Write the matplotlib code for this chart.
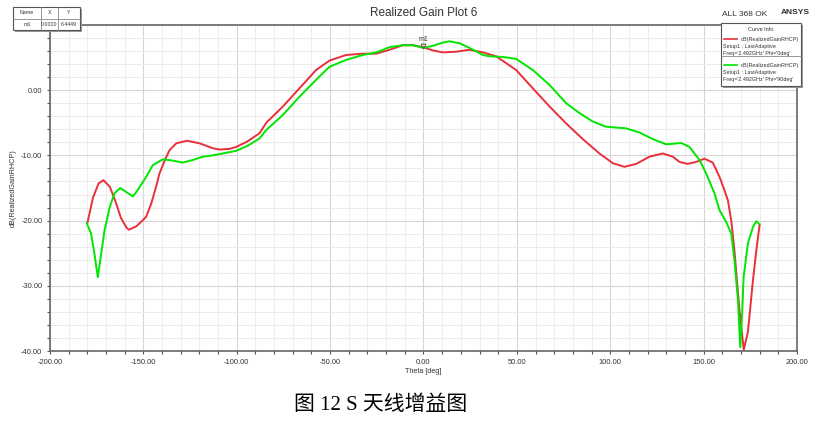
import numpy as np
import matplotlib.pyplot as plt
from matplotlib.patches import Rectangle
from matplotlib.ticker import MultipleLocator

# data
theta_red = [-180, -177, -174, -171.4, -168, -165, -162, -159, -157.8, -153.9, -150.3, -148.5,
             -145.8, -143.2, -141.4, -138.5, -136, -132.4, -126.7, -119.9, -112.8, -109.2,
             -103.9, -100.3, -94.5, -87.8, -84.2, -75.3, -66.4, -57.5, -50.3, -41.4, -32.5,
             -25.3, -18.2, -11.1, -5.7, -0.4, 5.0, 10.3, 17.5, 24.6, 31.8, 38.9, 49.6, 58.5,
             67.5, 76.4, 85.3, 94.2, 101.4, 107.6, 113.9, 121.0, 128.1, 133.5, 137.1, 141.5,
             146, 150.4, 154.9, 158.5, 161.1, 163, 164.8, 166.5, 169.2, 171.5, 173.7, 175.0,
             176.4, 178.2, 180]
gain_red = [-20.4, -16.5, -14.3, -13.8, -14.8, -17.0, -19.6, -21.1, -21.4, -20.9, -19.95, -19.4,
            -17.4, -14.8, -12.8, -10.7, -9.2, -8.15, -7.75, -8.15, -8.9, -9.1,
            -9.0, -8.7, -7.9, -6.6, -5.0, -2.5, 0.3, 3.1, 4.55, 5.4, 5.6,
            5.6, 6.2, 6.9, 6.9, 6.6, 6.1, 5.8, 5.9, 6.2, 5.8, 5.2, 3.1, 0.3,
            -2.5, -5.1, -7.5, -9.7, -11.2, -11.75, -11.3, -10.2, -9.7, -10.2, -11.0, -11.3,
            -11.0, -10.5, -11.1, -13.3, -15.3, -16.9, -20.0, -24.6, -33.8, -39.8, -37.1, -33.3,
            -29.2, -24.6, -20.6]

theta_green = [-180.3, -178, -176.2, -174.4, -172.6, -170.8, -168, -165.4, -162.4, -159.2,
               -155.6, -153, -148.5, -145, -139.6, -134.2, -128.9, -123.5, -118.2, -112.8,
               -105.7, -100.3, -94, -87.8, -84.2, -75.3, -66.4, -57.5, -50.3, -41.4, -32.5,
               -25.3, -18.2, -11.1, -5.7, -0.4, 5.0, 10.3, 13.9, 19.3, 24.6, 31.8, 35.3, 42.5,
               49.6, 58.5, 67.5, 76.4, 83.5, 90.6, 97.7, 108.5, 115.7, 122.8, 129.9, 138,
               142.4, 147.8, 151.4, 155.8, 158.5, 162.1, 164.8, 166.5, 168.4, 169.6, 170.7,
               171.4, 173.7, 176.4, 178.2, 179.6]
gain_green = [-20.4, -22.0, -25.1, -28.7, -25.1, -21.5, -17.9, -15.8, -15.0, -15.6,
              -16.3, -15.3, -13.3, -11.5, -10.6, -10.8, -11.1, -10.7, -10.2, -10.0,
              -9.6, -9.3, -8.5, -7.4, -6.1, -3.8, -1.0, 1.6, 3.6, 4.65, 5.4,
              5.8, 6.6, 6.9, 6.9, 6.5, 6.8, 7.3, 7.5, 7.2, 6.5, 5.4, 5.2, 5.1,
              4.8, 3.1, 0.8, -2.0, -3.5, -4.8, -5.6, -5.85, -6.5, -7.5, -8.3, -8.1,
              -8.7, -10.7, -12.8, -15.8, -18.4, -20.2, -22.0, -26.1, -32.3, -39.4, -33.8,
              -28.7, -23.5, -21.0, -20.1, -20.5]

marker_x = 0.0
marker_y = 6.4449

red = '#e8303a'
green = '#00e600'
txt = '#333333'

plt.rcParams['font.family'] = ['Liberation Sans', 'DejaVu Sans']

fig = plt.figure(figsize=(8.2, 4.22), dpi=100)
ax = fig.add_axes([50 / 820, 1 - 351 / 422, 747 / 820, 326 / 422])

ax.plot(theta_red, gain_red, color=red, lw=1.4, zorder=3)
ax.plot(theta_green, gain_green, color=green, lw=1.4, zorder=3)

ax.plot([marker_x], [marker_y + 0.4], marker='v', ms=3.5, mfc='none', mec='#555555', mew=0.7, zorder=4)
ax.text(marker_x, marker_y + 0.8, 'm1', fontsize=5, color=txt, ha='center', va='bottom', zorder=4)

ax.set_xlim(-200, 200)
ax.set_ylim(-40, 10)
ax.xaxis.set_minor_locator(MultipleLocator(10))
ax.yaxis.set_minor_locator(MultipleLocator(2))
ax.set_xticks([-200, -150, -100, -50, 0, 50, 100, 150, 200])
ax.set_xticklabels(['%.2f' % v for v in ax.get_xticks()])
ax.set_yticks([-40, -30, -20, -10, 0])
ax.set_yticklabels(['%.2f' % v for v in ax.get_yticks()])
ax.grid(which='major', color='#d6d6d6', lw=0.8)
ax.grid(which='minor', color='#ececec', lw=0.7)
ax.set_axisbelow(True)
ax.tick_params(which='both', direction='out', length=2.5, width=0.8, color='#555555',
               labelsize=5.4, labelcolor=txt, pad=3)
for s in ax.spines.values():
    s.set_color('#666666')
    s.set_linewidth(1.2)

ax.set_xlabel('Theta [deg]', fontsize=5.2, color=txt, labelpad=2)
ax.set_ylabel('dB(RealizedGainRHCP)', fontsize=5.2, color=txt, labelpad=3)
fig.text(424 / 820, 1 - 13 / 422, 'Realized Gain Plot 6', fontsize=8.5, color=txt, ha='center', va='center')
fig.text(745 / 820, 1 - 14 / 422, 'ALL 368 OK', fontsize=6, color=txt, ha='center', va='center')
fig.text(795 / 820, 1 - 13 / 422, 'ANSYS', fontsize=6, color=txt, ha='center', va='center', fontweight='bold')


def fx(px):
    return px / 820


def fy(py):
    return 1 - py / 422


# marker table
fig.patches.append(Rectangle((fx(15), fy(32)), fx(67), 23 / 422, transform=fig.transFigure,
                             facecolor='#999999', edgecolor='none', zorder=5))
fig.patches.append(Rectangle((fx(13), fy(30)), fx(67), 23 / 422, transform=fig.transFigure,
                             facecolor='white', edgecolor='#555555', lw=0.8, zorder=6))
for xv in [41, 58]:
    fig.add_artist(plt.Line2D([fx(xv), fx(xv)], [fy(30), fy(7)], color='#888888', lw=0.6, zorder=7))
fig.add_artist(plt.Line2D([fx(13), fx(80)], [fy(18.5), fy(18.5)], color='#888888', lw=0.6, zorder=7))
for label, xv in [('Name', 27), ('X', 49.5), ('Y', 69)]:
    fig.text(fx(xv), fy(13), label, fontsize=3.8, color=txt, ha='center', va='center', zorder=8)
for label, xv in [('m1', 27), ('0.0000', 49.5), ('6.4449', 69)]:
    fig.text(fx(xv), fy(24.5), label, fontsize=3.8, color=txt, ha='center', va='center', zorder=8)

# curve info box
fig.patches.append(Rectangle((fx(723), fy(88)), fx(80), 63 / 422, transform=fig.transFigure,
                             facecolor='#999999', edgecolor='none', zorder=5))
fig.patches.append(Rectangle((fx(721), fy(86)), fx(80), 63 / 422, transform=fig.transFigure,
                             facecolor='white', edgecolor='#555555', lw=0.8, zorder=6))
fig.text(fx(761), fy(29.5), 'Curve Info', fontsize=4, color=txt, ha='center', va='center', zorder=8)
fig.add_artist(plt.Line2D([fx(721), fx(801)], [fy(56), fy(56)], color='#888888', lw=0.6, zorder=7))
rows = [(red, 39, 'Phi=\'0deg\''), (green, 65, 'Phi=\'90deg\'')]
for c, y0, phi in rows:
    fig.add_artist(plt.Line2D([fx(724), fx(737)], [fy(y0), fy(y0)], color=c, lw=1.2, zorder=7))
    fig.text(fx(799), fy(y0), 'dB(RealizedGainRHCP)', fontsize=3.9, color=txt, ha='right', va='center', zorder=8)
    fig.text(fx(723), fy(y0 + 7.5), 'Setup1 : LastAdaptive', fontsize=3.9, color=txt, ha='left', va='center', zorder=8)
    fig.text(fx(723), fy(y0 + 14.5), "Freq='2.492GHz' " + phi, fontsize=3.9, color=txt,
             ha='left', va='center', zorder=8)

fig.text(fx(381), fy(405), '图 12 S 天线增益图', fontsize=15, color='black', ha='center', va='center',
         family=['Liberation Serif', 'Noto Sans CJK SC'])

fig.savefig('out.png', dpi=100)
